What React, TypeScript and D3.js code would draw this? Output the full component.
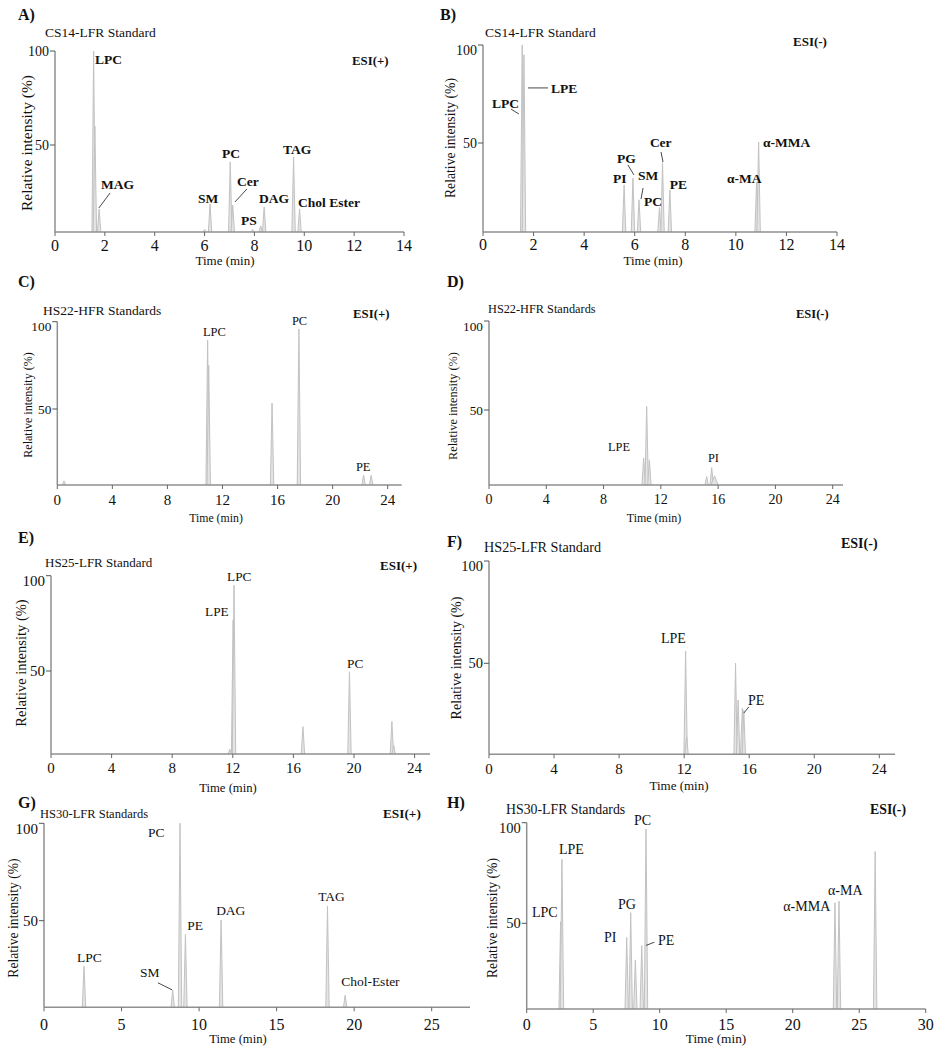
import React from "react";
import * as d3 from "d3";

// ---------- tick values ----------
const xTicks14 = [0, 2, 4, 6, 8, 10, 12, 14];
const xTicks24 = [0, 4, 8, 12, 16, 20, 24];
const xTicks30 = [0, 5, 10, 15, 20, 25, 30];
const yTicks = [50, 100];

// ---------- peaks: [time (min), relative intensity (%), optional half width (min)] ----------
type Peak = [number, number, number?];
const peaksA: Peak[] = [[1.55, 100], [1.6, 60], [1.77, 16], [6.0, 5], [6.22, 18.6], [7.03, 41], [7.13, 18], [7.93, 5], [8.25, 7], [8.39, 17], [9.57, 43.6], [9.81, 16]];
const peaksB: Peak[] = [[1.55, 100], [1.62, 95], [5.58, 28.6], [5.93, 32], [6.17, 21], [6.98, 17], [7.1, 40], [7.39, 26], [10.82, 30], [10.9, 50.5]];
const peaksC: Peak[] = [[0.49, 8.8], [10.92, 89.5], [11.0, 75], [15.6, 53.4], [17.55, 95.8], [22.25, 12], [22.8, 12]];
const peaksD: Peak[] = [[10.8, 23], [11.01, 52], [11.2, 22], [15.2, 12.6], [15.55, 17.6], [15.75, 13, 0.25]];
const peaksE: Peak[] = [[11.8, 9], [12.02, 76.7], [12.08, 95], [16.63, 20.8], [19.7, 49.6], [22.5, 23.5], [22.62, 11]];
const peaksF: Peak[] = [[12.09, 56], [12.15, 14], [15.16, 50, 0.1], [15.32, 32, 0.1], [15.58, 28, 0.12], [15.67, 27, 0.1]];
const peaksG: Peak[] = [[2.58, 26.6], [8.3, 14.4], [8.77, 100], [9.12, 43], [11.42, 50.3], [18.28, 57.5], [19.42, 11.8]];
const peaksH: Peak[] = [[2.55, 50.8], [2.65, 81.8], [7.52, 43], [7.82, 55.3], [8.17, 31.8], [8.65, 38.9], [8.97, 96.8], [23.18, 60.2], [23.48, 61], [26.2, 85.7]];

// ---------- annotations (data coordinates) ----------
type Label = { text: string; t: number; v: number; lead?: [number, number, number, number] };
const labelsA: Label[] = [
  { text: "LPC", t: 1.6, v: 93.1 },
  { text: "MAG", t: 1.85, v: 26.5, lead: [2.21, 24.5, 1.76, 16.5] },
  { text: "SM", t: 5.74, v: 19.1 },
  { text: "PC", t: 6.7, v: 43.1 },
  { text: "Cer", t: 7.3, v: 28.2, lead: [7.7, 26.6, 7.22, 19.7] },
  { text: "PS", t: 7.46, v: 7.4 },
  { text: "DAG", t: 8.18, v: 19.1 },
  { text: "TAG", t: 9.15, v: 45.2 },
  { text: "Chol Ester", t: 9.75, v: 17.0 },
];
const labelsB: Label[] = [
  { text: "LPC", t: 0.36, v: 67.9, lead: [1.11, 67.3, 1.42, 64.8] },
  { text: "LPE", t: 2.69, v: 75.5, lead: [1.78, 78.1, 2.57, 78.1] },
  { text: "PI", t: 5.14, v: 29.5 },
  { text: "PG", t: 5.3, v: 39.8, lead: [5.73, 38.8, 5.97, 33.7] },
  { text: "SM", t: 6.13, v: 31.1, lead: [6.33, 27, 6.25, 21.4] },
  { text: "PC", t: 6.37, v: 17.9 },
  { text: "Cer", t: 6.6, v: 48, lead: [7.04, 45.4, 7.12, 40.3] },
  { text: "PE", t: 7.39, v: 26.5 },
  { text: "α-MA", t: 9.65, v: 29.6 },
  { text: "α-MMA", t: 11.07, v: 48 },
];
const labelsC: Label[] = [
  { text: "LPC", t: 10.58, v: 91.8 },
  { text: "PC", t: 17.04, v: 98 },
  { text: "PE", t: 21.69, v: 14.5 },
];
const labelsD: Label[] = [
  { text: "LPE", t: 8.31, v: 27 },
  { text: "PI", t: 15.29, v: 21 },
];
const labelsE: Label[] = [
  { text: "LPC", t: 11.62, v: 97.2 },
  { text: "LPE", t: 10.17, v: 78.9 },
  { text: "PC", t: 19.54, v: 51.6 },
];
const labelsF: Label[] = [
  { text: "LPE", t: 10.57, v: 59.9 },
  { text: "PE", t: 15.92, v: 29.5, lead: [15.98, 28.7, 15.67, 25.7] },
];
const labelsG: Label[] = [
  { text: "LPC", t: 2.13, v: 28.8 },
  { text: "SM", t: 6.19, v: 21.1, lead: [7.35, 18.1, 8.26, 14.5] },
  { text: "PC", t: 6.71, v: 92.8 },
  { text: "PE", t: 9.23, v: 45.2 },
  { text: "DAG", t: 11.1, v: 53 },
  { text: "TAG", t: 17.68, v: 60.1 },
  { text: "Chol-Ester", t: 19.16, v: 16.5 },
];
const labelsH: Label[] = [
  { text: "LPC", t: 0.4, v: 53.3 },
  { text: "LPE", t: 2.43, v: 84.5 },
  { text: "PI", t: 5.81, v: 40.6 },
  { text: "PG", t: 6.86, v: 57.2 },
  { text: "PC", t: 8.07, v: 99.1 },
  { text: "PE", t: 9.87, v: 39.3, lead: [8.97, 39.0, 9.6, 40.6] },
  { text: "α-MMA", t: 19.29, v: 56 },
  { text: "α-MA", t: 22.65, v: 64 },
];

// ---------- layout ----------
interface Panel {
  peaks: Peak[]; labels: Label[]; xTicks: number[];
  letter: string; letterX: number; letterY: number;
  title: string; titleX: number; titleY: number; titleSize: number;
  esi: string; esiX: number; esiY: number; esiSize: number;
  x0: number; xRefV: number; xRefPx: number; xEnd: number;
  y50: number; y100: number; axisY: number;
  yLabelX: number; yLabelY: number; yLabelSize: number;
  xTitleX: number; xTitleY: number; xTitleSize: number;
  xTickY: number; xTickSize: number; yTickSize: number; top100dy: number;
  labelSize: number; bold: boolean;
}

const panels: Panel[] = [
  { peaks: peaksA, labels: labelsA, xTicks: xTicks14, letter: "A)", letterX: 18, letterY: 20,
    title: "CS14-LFR Standard", titleX: 45, titleY: 37, titleSize: 13.5,
    esi: "ESI(+)", esiX: 352, esiY: 65, esiSize: 12.8,
    x0: 55, xRefV: 14, xRefPx: 404, xEnd: 404, y50: 145, y100: 51, axisY: 232,
    yLabelX: 27, yLabelY: 143, yLabelSize: 15.5, xTitleX: 225, xTitleY: 265, xTitleSize: 13,
    xTickY: 251, xTickSize: 16, yTickSize: 14, top100dy: 0, labelSize: 13.5, bold: true },
  { peaks: peaksB, labels: labelsB, xTicks: xTicks14, letter: "B)", letterX: 440, letterY: 20,
    title: "CS14-LFR Standard", titleX: 485, titleY: 37, titleSize: 13.5,
    esi: "ESI(-)", esiX: 793, esiY: 46, esiSize: 13,
    x0: 483, xRefV: 14, xRefPx: 837, xEnd: 837, y50: 143, y100: 45, axisY: 232,
    yLabelX: 450, yLabelY: 138, yLabelSize: 13.7, xTitleX: 653, xTitleY: 265, xTitleSize: 13,
    xTickY: 250, xTickSize: 16, yTickSize: 14, top100dy: 5, labelSize: 13.5, bold: true },
  { peaks: peaksC, labels: labelsC, xTicks: xTicks24, letter: "C)", letterX: 18, letterY: 287,
    title: "HS22-HFR Standards", titleX: 43, titleY: 315, titleSize: 13.5,
    esi: "ESI(+)", esiX: 353, esiY: 318, esiSize: 12.8,
    x0: 57.3, xRefV: 24, xRefPx: 387.7, xEnd: 401.7, y50: 409, y100: 321.7, axisY: 485,
    yLabelX: 28, yLabelY: 405, yLabelSize: 12, xTitleX: 216, xTitleY: 522, xTitleSize: 11.8,
    xTickY: 505, xTickSize: 15, yTickSize: 13.3, top100dy: 5, labelSize: 12.5, bold: false },
  { peaks: peaksD, labels: labelsD, xTicks: xTicks24, letter: "D)", letterX: 447, letterY: 287,
    title: "HS22-HFR Standards", titleX: 488, titleY: 313, titleSize: 12.3,
    esi: "ESI(-)", esiX: 796, esiY: 318, esiSize: 12.5,
    x0: 489, xRefV: 24, xRefPx: 832.7, xEnd: 843, y50: 410, y100: 321, axisY: 485,
    yLabelX: 453, yLabelY: 406, yLabelSize: 12.3, xTitleX: 654, xTitleY: 522, xTitleSize: 12,
    xTickY: 504, xTickSize: 14, yTickSize: 13.3, top100dy: 5, labelSize: 12.4, bold: false },
  { peaks: peaksE, labels: labelsE, xTicks: xTicks24, letter: "E)", letterX: 18, letterY: 543,
    title: "HS25-LFR Standard", titleX: 45, titleY: 567, titleSize: 13,
    esi: "ESI(+)", esiX: 380, esiY: 570, esiSize: 13,
    x0: 51, xRefV: 24, xRefPx: 414.6, xEnd: 430, y50: 671, y100: 575.7, axisY: 754,
    yLabelX: 21, yLabelY: 663, yLabelSize: 14.5, xTitleX: 228, xTitleY: 792, xTitleSize: 12.7,
    xTickY: 773, xTickSize: 15, yTickSize: 15, top100dy: 5, labelSize: 13.3, bold: false },
  { peaks: peaksF, labels: labelsF, xTicks: xTicks24, letter: "F)", letterX: 447, letterY: 547,
    title: "HS25-LFR Standard", titleX: 484, titleY: 552, titleSize: 14.2,
    esi: "ESI(-)", esiX: 841, esiY: 548, esiSize: 14,
    x0: 489, xRefV: 24, xRefPx: 879.3, xEnd: 895, y50: 663.3, y100: 561, axisY: 754.3,
    yLabelX: 456, yLabelY: 658, yLabelSize: 14, xTitleX: 679, xTitleY: 790, xTitleSize: 13,
    xTickY: 774, xTickSize: 15, yTickSize: 14.5, top100dy: 5, labelSize: 14, bold: false },
  { peaks: peaksG, labels: labelsG, xTicks: xTicks30, letter: "G)", letterX: 18, letterY: 808,
    title: "HS30-LFR Standards", titleX: 40, titleY: 818, titleSize: 12.5,
    esi: "ESI(+)", esiX: 383, esiY: 818, esiSize: 13.3,
    x0: 44, xRefV: 25, xRefPx: 431.7, xEnd: 470, y50: 920.7, y100: 823.3, axisY: 1007.3,
    yLabelX: 13, yLabelY: 918, yLabelSize: 13.6, xTitleX: 238, xTitleY: 1043, xTitleSize: 12.7,
    xTickY: 1030, xTickSize: 16, yTickSize: 15, top100dy: 5, labelSize: 13.5, bold: false },
  { peaks: peaksH, labels: labelsH, xTicks: xTicks30, letter: "H)", letterX: 447, letterY: 808,
    title: "HS30-LFR Standards", titleX: 506, titleY: 814, titleSize: 13.8,
    esi: "ESI(-)", esiX: 870, esiY: 814, esiSize: 13.8,
    x0: 526.7, xRefV: 30, xRefPx: 925.7, xEnd: 925.7, y50: 923.3, y100: 822.7, axisY: 1009,
    yLabelX: 492, yLabelY: 918, yLabelSize: 13.7, xTitleX: 716, xTitleY: 1043, xTitleSize: 13.3,
    xTickY: 1030, xTickSize: 16, yTickSize: 14.5, top100dy: 5, labelSize: 14, bold: false },
];

const FONT = "'Liberation Serif', 'Times New Roman', serif";
const AXIS = "#8f8f8f";
const PEAK_STROKE = "#c2c2c2";
const PEAK_FILL = "#e4e4e4";

function ChartPanel({ p }: { p: Panel }) {
  const x = d3.scaleLinear().domain([0, p.xRefV]).range([p.x0, p.xRefPx]);
  const y = d3.scaleLinear().domain([50, 100]).range([p.y50, p.y100]);
  const base = y.invert(p.axisY);
  const hwPx = 1.7;
  const line = d3.line<[number, number]>().x((d) => x(d[0])).y((d) => y(d[1]));
  const ticks = p.xTicks.filter((t) => x(t) <= p.xEnd + 0.5);
  return (
    <g fontFamily={FONT} fill="#111">
      <text x={p.letterX} y={p.letterY} fontSize={16} fontWeight="bold">{p.letter}</text>
      <text x={p.titleX} y={p.titleY} fontSize={p.titleSize}>{p.title}</text>
      <text x={p.esiX} y={p.esiY} fontSize={p.esiSize} fontWeight="bold">{p.esi}</text>

      {/* peaks */}
      {p.peaks.map((pk, i) => {
        const t = pk[0];
        const h = pk[1];
        const l = pk[2] !== undefined ? t - (pk[2] as number) : x.invert(x(t) - hwPx);
        const r = pk[2] !== undefined ? t + (pk[2] as number) : x.invert(x(t) + hwPx);
        const pts: [number, number][] = [[l, base], [t, h], [r, base]];
        return <path key={i} d={line(pts) || ""} fill={PEAK_FILL} stroke={PEAK_STROKE} strokeWidth={1} strokeLinejoin="miter" />;
      })}

      {/* axes */}
      <line x1={p.x0} x2={p.xEnd} y1={p.axisY} y2={p.axisY} stroke={AXIS} strokeWidth={1.5} />
      <line x1={p.x0} x2={p.x0} y1={p.axisY} y2={y(100)} stroke={AXIS} strokeWidth={1.5} />
      {ticks.map((t) => (
        <g key={"xt" + t}>
          <line x1={x(t)} x2={x(t)} y1={p.axisY} y2={p.axisY + 4} stroke="#666" strokeWidth={1} />
          <text x={x(t)} y={p.xTickY} fontSize={p.xTickSize} textAnchor="middle">{t}</text>
        </g>
      ))}
      {yTicks.map((v) => (
        <g key={"yt" + v}>
          <line x1={p.x0 - 5} x2={p.x0} y1={y(v)} y2={y(v)} stroke="#555" strokeWidth={1} />
          <text x={p.x0 - 6} y={y(v) + (v === 100 ? p.top100dy : 0)} dy="0.35em" fontSize={p.yTickSize} textAnchor="end">{v}</text>
        </g>
      ))}
      <text transform={`translate(${p.yLabelX},${p.yLabelY}) rotate(-90)`} dy="0.35em" fontSize={p.yLabelSize} textAnchor="middle">Relative intensity (%)</text>
      <text x={p.xTitleX} y={p.xTitleY} fontSize={p.xTitleSize} textAnchor="middle">Time (min)</text>

      {/* annotations */}
      {p.labels.map((lb, i) => (
        <g key={"lb" + i}>
          <text x={x(lb.t)} y={y(lb.v)} fontSize={p.labelSize} fontWeight={p.bold ? "bold" : "normal"}>{lb.text}</text>
          {lb.lead && (
            <line x1={x(lb.lead[0])} y1={y(lb.lead[1])} x2={x(lb.lead[2])} y2={y(lb.lead[3])} stroke="#333" strokeWidth={0.9} />
          )}
        </g>
      ))}
    </g>
  );
}

export default function App() {
  return (
    <svg width={943} height={1050} style={{ position: "absolute", left: 0, top: 0, background: "#fff" }}>
      <rect x={0} y={0} width={943} height={1050} fill="#fff" />
      {panels.map((p, i) => (
        <ChartPanel key={i} p={p} />
      ))}
    </svg>
  );
}
